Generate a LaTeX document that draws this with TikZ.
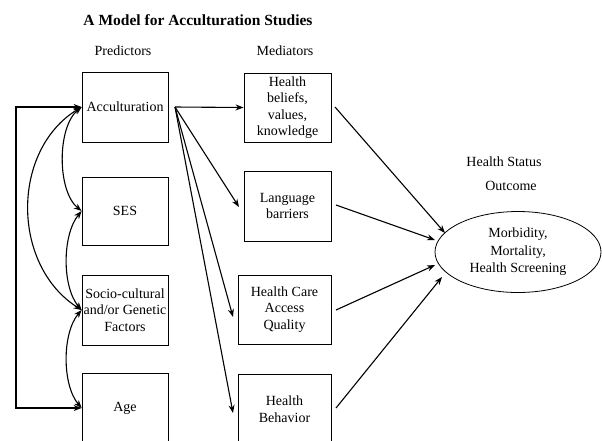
\documentclass[tikz,border=0pt]{standalone}
\usepackage{fontspec}
\setmainfont{Liberation Serif}
\usetikzlibrary{arrows.meta,shapes.geometric}
\begin{document}
\begin{tikzpicture}[x=1pt,y=-1pt,
  box/.style={draw,line width=0.8pt,inner sep=0pt,align=center,font=\fontsize{14}{16.5}\selectfont},
  lbl/.style={inner sep=0pt,align=center,font=\fontsize{14}{16.5}\selectfont},
  arr/.style={line width=1.1pt,-{Stealth[length=8pt,width=6pt]}},
  darr/.style={line width=1.1pt,{Stealth[length=8pt,width=6pt]}-{Stealth[length=8pt,width=6pt]}}]
\useasboundingbox (0,0) rectangle (602,440);
\node[lbl,font=\bfseries\fontsize{15.5}{18}\selectfont] (title) at (198,20) {A Model for Acculturation Studies};
\node[lbl] (pred) at (123,51) {Predictors};
\node[lbl] (med) at (285,51) {Mediators};
\node[lbl] (hs) at (504,162) {Health Status};
\node[lbl] (oc) at (511,186) {Outcome};
% predictors
\node[box,minimum width=86pt,minimum height=70pt] (acc) at (125,107) {Acculturation};
\node[box,minimum width=86pt,minimum height=68pt] (ses) at (125,211) {SES};
\node[box,minimum width=86pt,minimum height=70pt] (soc) at (125,310) {Socio-cultural\\and/or Genetic\\Factors};
\node[box,minimum width=86pt,minimum height=70pt] (age) at (125,408) {Age};
% mediators
\node[box,minimum width=87pt,minimum height=69pt] (hb) at (287.5,107.5) {Health\\beliefs,\\values,\\knowledge};
\node[box,minimum width=87pt,minimum height=70pt] (lang) at (287.5,206) {Language\\barriers};
\node[box,minimum width=93pt,minimum height=69pt] (hc) at (284.5,309.5) {Health Care\\Access\\Quality};
\node[box,minimum width=93pt,minimum height=70pt] (hbeh) at (284.5,409) {Health\\Behavior};
% outcome
\node[draw,line width=0.8pt,ellipse,inner sep=0pt,minimum width=166pt,minimum height=81pt,align=center,font=\fontsize{14}{17.5}\selectfont] (out) at (518,252) {Morbidity,\\Mortality,\\Health Screening};
% coordinates
\coordinate (src) at (175,107);
\coordinate (langin) at (239,207);
\coordinate (hcin) at (233,317);
\coordinate (hbehin) at (233,413);
\coordinate (hbout) at (335,107);
\coordinate (langout) at (336,205);
\coordinate (hcout) at (336,310);
\coordinate (hbehout) at (336,408);
\coordinate (e1) at (445,233);
\coordinate (e2) at (435,240);
\coordinate (e3) at (435,265);
\coordinate (e4) at (442,277);
\coordinate (lc) at (16,107);
% acculturation to mediators
\draw[arr] (src) -- (hb.west);
\draw[arr] (src) -- (langin);
\draw[arr] (src) -- (hcin);
\draw[arr] (src) -- (hbehin);
% mediators to outcome
\draw[arr] (hbout) -- (e1);
\draw[arr] (langout) -- (e2);
\draw[arr] (hcout) -- (e3);
\draw[arr] (hbehout) -- (e4);
% correlations among predictors
\draw[darr] (acc.west) .. controls (57,127) and (57,191) .. (ses.west);
\draw[darr] (ses.west) .. controls (62,235) and (62,287) .. (soc.west);
\draw[darr] (soc.west) .. controls (62,333) and (62,385) .. (age.west);
\draw[darr] (acc.west) .. controls (11,150) and (11,265) .. (soc.west);
\draw[darr] (acc.west) -- (lc) |- (age.west);
\end{tikzpicture}
\end{document}
